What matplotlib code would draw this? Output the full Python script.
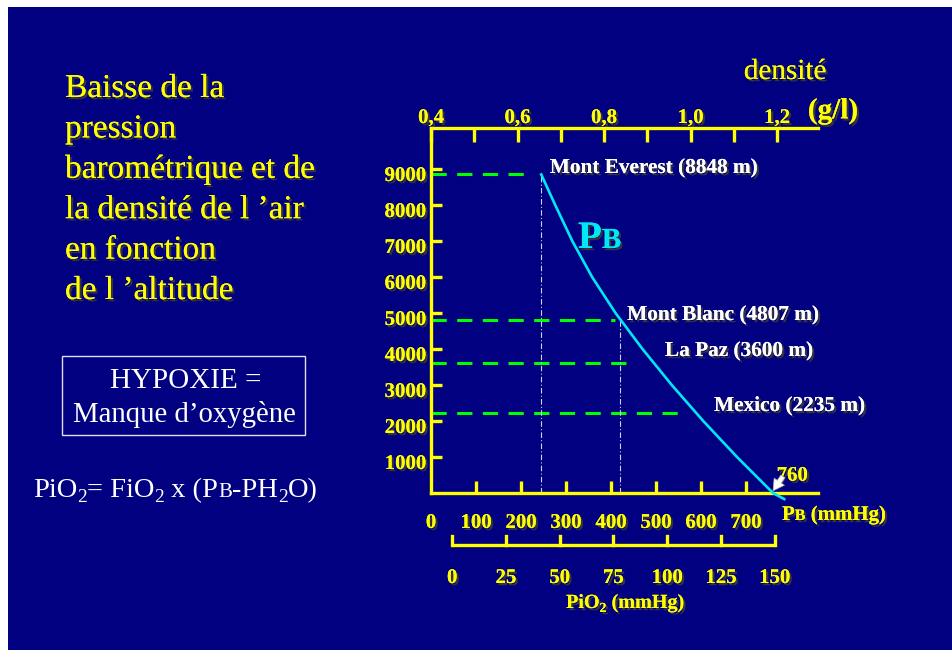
import matplotlib
matplotlib.use("Agg")
import matplotlib.pyplot as plt
import matplotlib.patheffects as pe
from matplotlib.patches import Rectangle
from matplotlib.transforms import IdentityTransform, blended_transform_factory

# barometric pressure vs altitude
altitude_m = [-170, 0, 1000, 2000, 3000, 4000, 5000, 6000, 7000, 8000, 8848]
pb_mmhg = [785, 760, 680, 605, 535, 470, 410, 358, 314, 276, 245]

# reference sites
site_names = ["Mont Everest", "Mont Blanc", "La Paz", "Mexico"]
site_alt = [8848, 4807, 3600, 2235]
dash_end_pb = [213, 409, 447, 558]   # where each green dashed line stops
summit_pb = [245, 420]               # vertical drops for Everest and Mont Blanc
sea_level_pb = 760

pb_ticks = [0, 100, 200, 300, 400, 500, 600, 700]
alt_ticks = [1000, 2000, 3000, 4000, 5000, 6000, 7000, 8000, 9000]
density_major = [0.4, 0.6, 0.8, 1.0, 1.2]
density_labels = ["0,4", "0,6", "0,8", "1,0", "1,2"]
density_minor = [0.5, 0.7, 0.9, 1.1]
pio2_ticks = [0, 25, 50, 75, 100, 125, 150]
FIO2 = 0.2093
PH2O = 47

title_lines = ["Baisse de la", "pression", "barométrique et de",
               "la densité de l \u2019air", "en fonction", "de l \u2019altitude"]

W, H = 952, 650
NAVY = "#000080"
YELLOW = "#ffff00"
CYAN = "#00e8f8"
SERIF = "Liberation Serif"
plt.rcParams["font.family"] = SERIF

shadow = [pe.withSimplePatchShadow(offset=(1.6, -1.6), shadow_rgbFace="#3a3a3a", alpha=0.9),
          pe.Normal()]


def fx(px):
    return px / W


def fy(py):
    return (H - py) / H


fig = plt.figure(figsize=(W / 100, H / 100), dpi=100, facecolor="white")
fig.add_artist(Rectangle((fx(8), 0), 1 - fx(8), fy(7), transform=fig.transFigure,
                         facecolor=NAVY, edgecolor="none", zorder=-10))
renderer = fig.canvas.get_renderer()


def rich_text(x, y, parts, color, weight="normal", effects=None):
    # parts: (text, fontsize, px to drop below the baseline); x, y in pixels from top-left
    cur = x
    for s, size, drop in parts:
        t = fig.text(cur, H - y - drop, s, transform=IdentityTransform(), fontsize=size,
                     color=color, family=SERIF, weight=weight, ha="left", va="baseline",
                     path_effects=effects)
        cur += t.get_window_extent(renderer).width


# main axes: PB (mmHg) against altitude (m)
ax = fig.add_axes([fx(431), fy(493), fx(818) - fx(431), fy(128) - fy(493)])
ax.set_facecolor("none")
ax.set_xlim(0, 860)
ax.set_ylim(0, 365 / 36 * 1000)
for side in ["top", "right"]:
    ax.spines[side].set_visible(False)
for side in ["left", "bottom"]:
    ax.spines[side].set_color(YELLOW)
    ax.spines[side].set_linewidth(2.4)
ax.set_xticks(pb_ticks[1:])
ax.set_yticks(alt_ticks)
ax.tick_params(axis="x", direction="in", length=9, width=2.4, color=YELLOW, labelbottom=False)
ax.tick_params(axis="y", direction="in", length=8, width=2.4, color=YELLOW, labelleft=False)

for v in pb_ticks:
    ax.annotate(str(v), xy=(v, 0), xytext=(0, -21.5), textcoords="offset points",
                ha="center", va="center", fontsize=15, weight="bold", color=YELLOW,
                path_effects=shadow, annotation_clip=False)
for v in alt_ticks:
    ax.annotate(str(v), xy=(0, v), xytext=(-3.5, -5), textcoords="offset points",
                ha="right", va="center", fontsize=15, weight="bold", color=YELLOW,
                path_effects=shadow, annotation_clip=False)

# density axis on top
ax2 = ax.twiny()
ax2.patch.set_visible(False)
for side in ["bottom", "left", "right"]:
    ax2.spines[side].set_visible(False)
ax2.spines["top"].set_color(YELLOW)
ax2.spines["top"].set_linewidth(2.4)
ax2.set_xlim(0.4, 0.4 + 387 / 432.5)
ax2.set_xticks(density_major)
ax2.set_xticklabels(density_labels)
ax2.set_xticks(density_minor, minor=True)
ax2.tick_params(axis="x", which="both", direction="in", length=10, width=2.4, color=YELLOW,
                top=True, bottom=False, labeltop=True, labelbottom=False, pad=0)
for lbl in ax2.get_xticklabels():
    lbl.set_fontsize(15)
    lbl.set_fontweight("bold")
    lbl.set_color(YELLOW)
    lbl.set_path_effects(shadow)

# green dashed altitude markers and thin drop lines
for alt, end in zip(site_alt, dash_end_pb):
    ax.plot([0, end], [alt, alt], color="#00ff00", lw=2.2, dashes=(5.0, 3.4), zorder=2)
for pb, alt in zip(summit_pb, site_alt[:2]):
    ax.plot([pb, pb], [0, alt], color="#d0d0f0", lw=0.8, dashes=(5, 2, 1, 2), zorder=2)

ax.plot(pb_mmhg, altitude_m, color=CYAN, lw=1.9, zorder=3, clip_on=False,
        solid_joinstyle="round")

label_xy = [(264, 9028), (436, 4944), (520, 3944), (629, 2417)]
for name, alt, (lx, ly) in zip(site_names, site_alt, label_xy):
    ax.text(lx, ly, f"{name} ({alt} m)", fontsize=15.3, weight="bold", color="white",
            ha="left", va="center", path_effects=shadow, clip_on=False)

# sea-level value, with a short white pointer to the axis crossing
ax.text(768, 340, str(sea_level_pb), fontsize=15, weight="bold", color=YELLOW,
        ha="left", va="baseline", path_effects=shadow, clip_on=False)
ax.annotate("", xy=(sea_level_pb, 60), xytext=(782, 460), annotation_clip=False, zorder=4,
            arrowprops=dict(arrowstyle="simple,head_length=0.8,head_width=0.9,tail_width=0.35",
                            facecolor="white", edgecolor="#b0b0b0", lw=0.5,
                            shrinkA=0, shrinkB=0, mutation_scale=10))

# PiO2 scale under the PB axis
bx = blended_transform_factory(ax.transData, fig.transFigure)
pio2_x = [p / FIO2 + PH2O for p in pio2_ticks]
ax.plot([pio2_x[0], pio2_x[-1]], [fy(545), fy(545)], color=YELLOW, lw=2.4,
        transform=bx, clip_on=False, solid_capstyle="butt")
for x, p in zip(pio2_x, pio2_ticks):
    ax.plot([x, x], [fy(545), fy(536)], color=YELLOW, lw=2.4, transform=bx, clip_on=False)
    ax.text(x, fy(578), str(p), transform=bx, ha="center", va="center", fontsize=15,
            weight="bold", color=YELLOW, path_effects=shadow)

rich_text(566, 608, [("PiO", 14.5, 0), ("2", 10, 4), (" (mmHg)", 14.5, 0)],
          YELLOW, "bold", shadow)
rich_text(782, 520, [("P", 15, 0), ("B", 11.5, 0), (" (mmHg)", 15, 0)],
          YELLOW, "bold", shadow)
rich_text(578, 248, [("P", 28, 0), ("B", 21, 0)], CYAN, "bold", shadow)

fig.text(fx(785), fy(72), "densité", fontsize=21, color=YELLOW, ha="center", va="center",
         path_effects=shadow)
fig.text(fx(833), fy(111), "(g/l)", fontsize=21, weight="bold", color=YELLOW,
         ha="center", va="center", path_effects=shadow)

# left-hand text block
for i, line in enumerate(title_lines):
    fig.text(fx(65), fy(97 + 40.4 * i), line, fontsize=24, color=YELLOW, ha="left",
             va="baseline", path_effects=shadow)

fig.add_artist(Rectangle((fx(62), fy(435)), fx(305) - fx(62), fy(356) - fy(435),
                         transform=fig.transFigure, facecolor="none",
                         edgecolor="#e0e0f0", lw=1.0))
fig.text(fx(186), fy(388), "HYPOXIE =", fontsize=21, color="white", ha="center",
         va="baseline")
fig.text(fx(184), fy(422), "Manque d\u2019oxygène", fontsize=20.7, color="white",
         ha="center", va="baseline")

rich_text(33, 497, [("PiO", 20.5, 0), ("2", 14, 5), ("= FiO", 20.5, 0), ("2", 14, 5),
                    (" x (P", 20.5, 0), ("B", 15, 0), ("-PH", 20.5, 0), ("2", 14, 5),
                    ("O)", 20.5, 0)], "white")

fig.savefig("out.png", dpi=100, facecolor="white")
